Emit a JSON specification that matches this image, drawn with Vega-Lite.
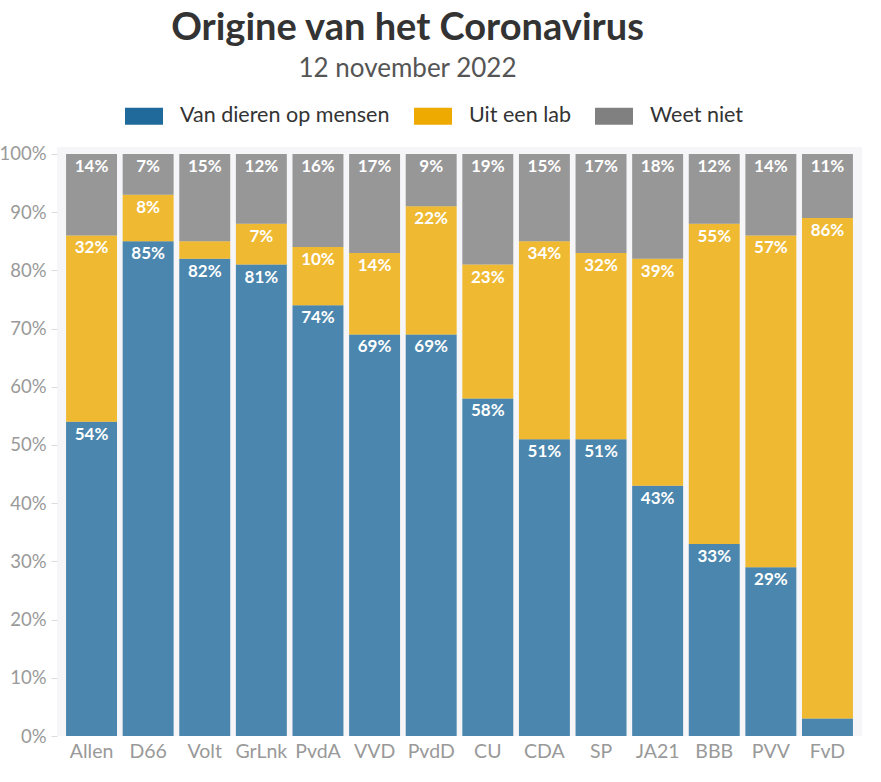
{
  "$schema": "https://vega.github.io/schema/vega-lite/v6.json",
  "autosize": {"type": "none"},
  "width": 805,
  "height": 589,
  "padding": {"left": 57, "top": 147, "right": 19, "bottom": 46},
  "background": "white",
  "title": {
    "text": "Origine van het Coronavirus",
    "subtitle": "12 november 2022",
    "anchor": "middle",
    "frame": "group",
    "dx": -52,
    "offset": 15,
    "font": "Lato",
    "fontSize": 38,
    "fontWeight": "bold",
    "color": "#333333",
    "subtitleFont": "Lato",
    "subtitleFontSize": 26,
    "subtitleColor": "#555555",
    "subtitlePadding": 8
  },
  "data": {
    "values": [
      {"party": "Allen", "cat": "Van dieren op mensen", "order": 1, "value": 54},
      {"party": "Allen", "cat": "Uit een lab", "order": 2, "value": 32},
      {"party": "Allen", "cat": "Weet niet", "order": 3, "value": 14},
      {"party": "D66", "cat": "Van dieren op mensen", "order": 1, "value": 85},
      {"party": "D66", "cat": "Uit een lab", "order": 2, "value": 8},
      {"party": "D66", "cat": "Weet niet", "order": 3, "value": 7},
      {"party": "Volt", "cat": "Van dieren op mensen", "order": 1, "value": 82},
      {"party": "Volt", "cat": "Uit een lab", "order": 2, "value": 3},
      {"party": "Volt", "cat": "Weet niet", "order": 3, "value": 15},
      {"party": "GrLnk", "cat": "Van dieren op mensen", "order": 1, "value": 81},
      {"party": "GrLnk", "cat": "Uit een lab", "order": 2, "value": 7},
      {"party": "GrLnk", "cat": "Weet niet", "order": 3, "value": 12},
      {"party": "PvdA", "cat": "Van dieren op mensen", "order": 1, "value": 74},
      {"party": "PvdA", "cat": "Uit een lab", "order": 2, "value": 10},
      {"party": "PvdA", "cat": "Weet niet", "order": 3, "value": 16},
      {"party": "VVD", "cat": "Van dieren op mensen", "order": 1, "value": 69},
      {"party": "VVD", "cat": "Uit een lab", "order": 2, "value": 14},
      {"party": "VVD", "cat": "Weet niet", "order": 3, "value": 17},
      {"party": "PvdD", "cat": "Van dieren op mensen", "order": 1, "value": 69},
      {"party": "PvdD", "cat": "Uit een lab", "order": 2, "value": 22},
      {"party": "PvdD", "cat": "Weet niet", "order": 3, "value": 9},
      {"party": "CU", "cat": "Van dieren op mensen", "order": 1, "value": 58},
      {"party": "CU", "cat": "Uit een lab", "order": 2, "value": 23},
      {"party": "CU", "cat": "Weet niet", "order": 3, "value": 19},
      {"party": "CDA", "cat": "Van dieren op mensen", "order": 1, "value": 51},
      {"party": "CDA", "cat": "Uit een lab", "order": 2, "value": 34},
      {"party": "CDA", "cat": "Weet niet", "order": 3, "value": 15},
      {"party": "SP", "cat": "Van dieren op mensen", "order": 1, "value": 51},
      {"party": "SP", "cat": "Uit een lab", "order": 2, "value": 32},
      {"party": "SP", "cat": "Weet niet", "order": 3, "value": 17},
      {"party": "JA21", "cat": "Van dieren op mensen", "order": 1, "value": 43},
      {"party": "JA21", "cat": "Uit een lab", "order": 2, "value": 39},
      {"party": "JA21", "cat": "Weet niet", "order": 3, "value": 18},
      {"party": "BBB", "cat": "Van dieren op mensen", "order": 1, "value": 33},
      {"party": "BBB", "cat": "Uit een lab", "order": 2, "value": 55},
      {"party": "BBB", "cat": "Weet niet", "order": 3, "value": 12},
      {"party": "PVV", "cat": "Van dieren op mensen", "order": 1, "value": 29},
      {"party": "PVV", "cat": "Uit een lab", "order": 2, "value": 57},
      {"party": "PVV", "cat": "Weet niet", "order": 3, "value": 14},
      {"party": "FvD", "cat": "Van dieren op mensen", "order": 1, "value": 3},
      {"party": "FvD", "cat": "Uit een lab", "order": 2, "value": 86},
      {"party": "FvD", "cat": "Weet niet", "order": 3, "value": 11}
    ]
  },
  "transform": [
    {"stack": "value", "groupby": ["party"], "sort": [{"field": "order", "order": "ascending"}], "as": ["v0", "v1"]},
    {"calculate": "datum.value + '%'", "as": "label"}
  ],
  "encoding": {
    "x": {
      "field": "party",
      "type": "nominal",
      "sort": null,
      "scale": {"paddingInner": 0.1, "paddingOuter": 0.16},
      "axis": {
        "title": null,
        "labelAngle": 0,
        "labelFont": "Lato",
        "labelFontSize": 19.5,
        "labelColor": "#999999",
        "labelPadding": 6,
        "ticks": false,
        "domain": false,
        "grid": false
      }
    }
  },
  "layer": [
    {
      "mark": {"type": "bar", "opacity": 0.8},
      "encoding": {
        "y": {
          "field": "v0",
          "type": "quantitative",
          "scale": {"domain": [0, 101.2], "nice": false, "zero": true},
          "axis": {
            "title": null,
            "values": [0, 10, 20, 30, 40, 50, 60, 70, 80, 90, 100],
            "labelExpr": "datum.value + '%'",
            "labelFont": "Lato",
            "labelFontSize": 18.5,
            "labelColor": "#999999",
            "labelPadding": 5,
            "tickColor": "#dddddd",
            "tickSize": 6,
            "domain": false,
            "grid": false
          }
        },
        "y2": {"field": "v1"},
        "color": {
          "field": "cat",
          "type": "nominal",
          "sort": null,
          "scale": {
            "domain": ["Van dieren op mensen", "Uit een lab", "Weet niet"],
            "range": ["#1f6a9a", "#eeaa00", "#808080"]
          },
          "legend": {
            "title": null,
            "orient": "none",
            "direction": "horizontal",
            "legendX": 68,
            "legendY": -50,
            "symbolType": "M-1,-0.45L1,-0.45L1,0.45L-1,0.45Z",
            "symbolSize": 1444,
            "symbolOpacity": 1,
            "symbolStrokeWidth": 0,
            "labelFont": "Lato",
            "labelFontSize": 21.5,
            "labelColor": "#333333",
            "labelOffset": 17,
            "columnPadding": 24,
            "labelLimit": 400
          }
        }
      }
    },
    {
      "transform": [{"filter": "datum.value >= 5"}],
      "mark": {"type": "text", "baseline": "top", "dy": 5, "font": "Lato", "fontSize": 17, "fontWeight": "bold", "color": "white"},
      "encoding": {
        "y": {"field": "v1", "type": "quantitative"},
        "text": {"field": "label"}
      }
    }
  ],
  "config": {
    "view": {"stroke": null, "fill": "#f6f6f8"}
  }
}
